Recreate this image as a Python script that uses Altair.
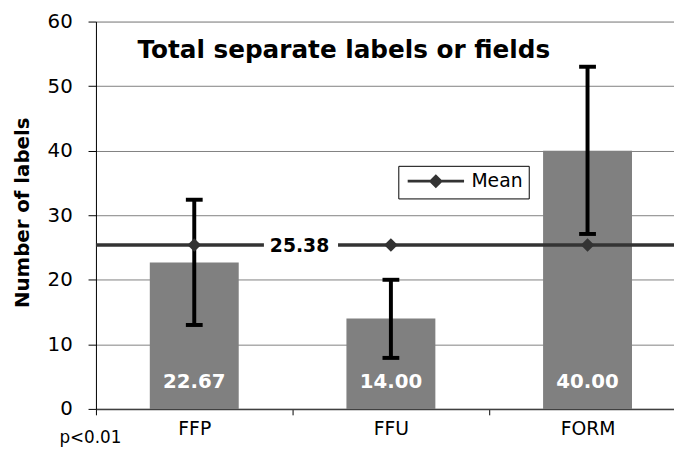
import altair as alt
import pandas as pd

# ---- data ----
categories = ["FFP", "FFU", "FORM"]
values = [22.67, 14.00, 40.00]
err_low = [13.0, 7.9, 27.1]
err_high = [32.4, 20.0, 53.0]
mean_value = 25.38
y_ticks = [0, 10, 20, 30, 40, 50, 60]
series_name = ["Mean"]
title_text = ["Total separate labels or fields"]
note_text = ["p<0.01"]
y_title = "Number of labels"

df = pd.DataFrame({
    "cat": categories,
    "value": values,
    "lo": err_low,
    "hi": err_high,
    "label": [f"{v:.2f}" for v in values],
    "mean": [mean_value] * len(categories),
})
mean_df = pd.DataFrame({
    "series": series_name,
    "mean": [mean_value],
    "mlo": [mean_value - 1.0],
    "mhi": [mean_value + 1.0],
    "label": [f"{mean_value:.2f}"],
    "title": title_text,
    "note": note_text,
})

FONT = "DejaVu Sans"
W, H = 585, 392

xscale = alt.Scale(domain=categories, range=[0, 597], paddingInner=0, paddingOuter=0)
x_axis = alt.Axis(title=None, tickBand="extent", labelAngle=0, labelFont=FONT,
                  labelFontSize=19, labelColor="black", labelPadding=5, tickSize=6,
                  tickColor="black", domainColor="#404040", domainWidth=1.5, grid=False)
x = alt.X("cat:N", scale=xscale, sort=categories, axis=x_axis)

yscale = alt.Scale(domain=[0, 60], nice=False, zero=True)
y_axis = alt.Axis(values=y_ticks, title=y_title, titleFont=FONT, titleFontSize=20,
                  titleFontWeight="bold", titleColor="black", titleX=-74, titleY=193,
                  titleAngle=270, titleAlign="center", titleBaseline="middle",
                  labelFont=FONT, labelFontSize=20, labelColor="black", labelPadding=16,
                  tickSize=8, tickColor="black", domainColor="black",
                  gridColor="#808080", gridWidth=1)

def Y(field):
    return alt.Y(field, scale=yscale, axis=y_axis)

base = alt.Chart(df)
mbase = alt.Chart(mean_df)

bars = base.mark_bar(size=90, color="#808080").encode(x=x, y=Y("value:Q"))

mean_rule = mbase.mark_rule(strokeWidth=3.5).encode(
    y=Y("mean:Q"),
    color=alt.Color("series:N", scale=alt.Scale(range=["#333333"]),
                    legend=alt.Legend(
                        title=None, orient="none", legendX=306, legendY=146,
                        strokeColor="black", fillColor="white", padding=6,
                        symbolType="M-0.86,0L7.29,0M3.21,-0.71L3.93,0L3.21,0.71L2.5,0Z",
                        symbolSize=196, symbolStrokeWidth=3,
                        symbolFillColor="#333333", symbolStrokeColor="#333333",
                        labelFont=FONT, labelFontSize=19, labelColor="black",
                        labelOffset=49)),
)

mean_gap = mbase.mark_rect(color="white").encode(
    x=alt.value(170), x2=alt.value(245), y=Y("mlo:Q"), y2="mhi:Q")

err = base.mark_rule(color="black", strokeWidth=4).encode(x=x, y=Y("lo:Q"), y2="hi:Q")
cap_lo = base.mark_tick(color="black", size=17, thickness=4, opacity=1).encode(x=x, y=Y("lo:Q"))
cap_hi = base.mark_tick(color="black", size=17, thickness=4, opacity=1).encode(x=x, y=Y("hi:Q"))

diamonds = base.mark_point(shape="diamond", filled=True, size=190, color="#333333",
                           opacity=1).encode(x=x, y=Y("mean:Q"))

val_labels = base.mark_text(color="white", font=FONT, fontSize=20, fontWeight="bold",
                            baseline="alphabetic", dy=-21).encode(
    x=x, y=alt.datum(0, scale=yscale), text="label:N")

mean_label = mbase.mark_text(color="black", font=FONT, fontSize=19, fontWeight="bold",
                             align="center", baseline="middle", dy=1).encode(
    x=alt.value(206), y=Y("mean:Q"), text="label:N")

title = mbase.mark_text(color="black", font=FONT, fontSize=25, fontWeight="bold",
                        align="left", baseline="alphabetic").encode(
    x=alt.value(42), y=alt.value(37), text="title:N")

note = mbase.mark_text(color="black", font=FONT, fontSize=17,
                       align="left", baseline="alphabetic").encode(
    x=alt.value(-37), y=alt.value(426), text="note:N")

chart = alt.layer(
    bars, mean_rule, mean_gap, err, cap_lo, cap_hi, diamonds,
    val_labels, mean_label, title, note
).properties(
    width=W, height=H,
    autosize=alt.AutoSizeParams(type="none"),
    padding={"left": 89, "top": 11, "right": 0, "bottom": 50},
).configure_view(stroke=None).configure(background="white")

chart.save("out.html", embed_options={"renderer": "svg", "actions": False})
